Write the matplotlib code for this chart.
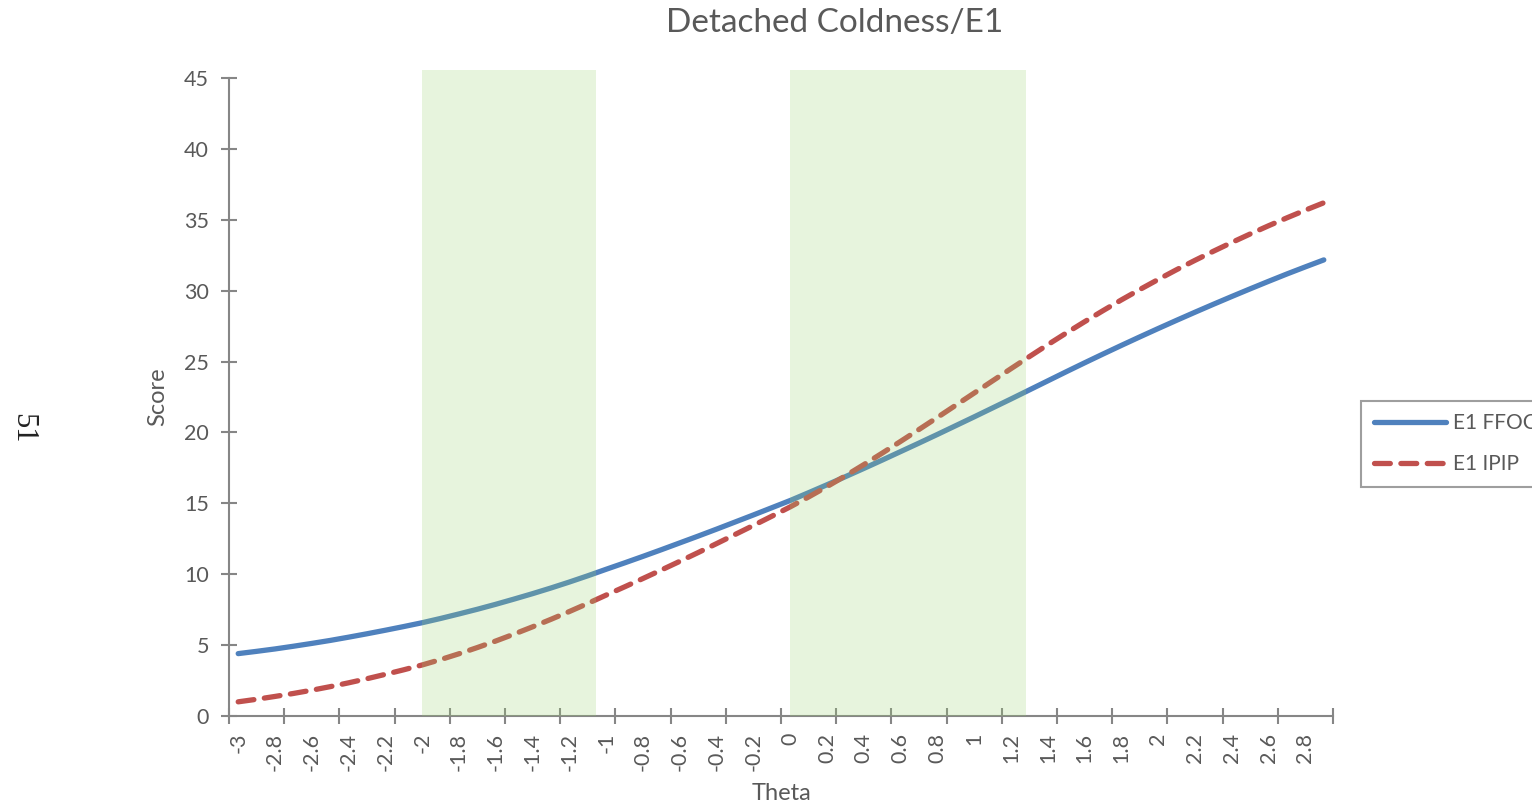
import matplotlib
matplotlib.use("Agg")
import matplotlib.pyplot as plt
import numpy as np

# --- données ---
theta = np.round(np.arange(-3.0, 2.95, 0.1), 1)

e1_ffoci = [4.40, 4.56, 4.73, 4.92, 5.12, 5.33, 5.56, 5.80, 6.05, 6.31,
            6.58, 6.88, 7.20, 7.53, 7.88, 8.25, 8.63, 9.03, 9.45, 9.89,
            10.35, 10.80, 11.26, 11.73, 12.21, 12.69, 13.18, 13.68, 14.18, 14.69,
            15.20, 15.75, 16.31, 16.88, 17.46, 18.05, 18.65, 19.25, 19.86, 20.48,
            21.10, 21.73, 22.36, 23.00, 23.64, 24.28, 24.91, 25.53, 26.14, 26.74,
            27.33, 27.91, 28.48, 29.04, 29.59, 30.13, 30.66, 31.18, 31.68, 32.17]

e1_ipip = [1.00, 1.18, 1.38, 1.59, 1.82, 2.07, 2.34, 2.63, 2.94, 3.26,
           3.60, 3.98, 4.39, 4.83, 5.29, 5.78, 6.29, 6.82, 7.37, 7.94,
           8.53, 9.11, 9.70, 10.30, 10.91, 11.53, 12.16, 12.80, 13.44, 14.09,
           14.75, 15.45, 16.18, 16.94, 17.73, 18.54, 19.37, 20.21, 21.06, 21.92,
           22.78, 23.64, 24.50, 25.35, 26.19, 27.01, 27.81, 28.59, 29.35, 30.08,
           30.79, 31.48, 32.14, 32.78, 33.40, 34.00, 34.58, 35.14, 35.68, 36.20]

# zones surlignées (en theta)
bands = [(-2.0, -1.055), (0.0, 1.28)]

grey_txt = '#595959'
grey_ax = '#868686'
plt.rcParams['font.family'] = ['Lato', 'DejaVu Sans']

fig = plt.figure(figsize=(15.32, 8.09), dpi=100)
ax = fig.add_axes([229/1532, 1-716/809, (1333-229)/1532, (716-78)/809])

ax.plot(theta, e1_ffoci, color='#4F81BD', lw=3.8, solid_capstyle='round',
        label='E1 FFOCI', zorder=2)
ax.plot(theta, e1_ipip, color='#C0504D', lw=3.8, dashes=(3.0, 2.0),
        dash_capstyle='round', label='E1 IPIP', zorder=2)

# bandes vertes par-dessus les courbes (transparentes)
for x0, x1 in bands:
    ax.axvspan(x0, x1, ymin=0, ymax=45.55/45, color='#9BD36F', alpha=0.23,
               lw=0, zorder=3, clip_on=False)

ax.set_xlim(-3.05, 2.95)
ax.set_ylim(0, 45)

# axe x : étiquettes une catégorie sur deux, graduations toutes les 3
lab_pos = theta[::2]
ax.set_xticks(lab_pos)
ax.set_xticklabels([f'{v + 0.0:g}' for v in lab_pos], rotation=90)
ax.set_xticks(np.round(np.arange(-3.05, 2.96, 0.3), 2), minor=True)
ax.tick_params(axis='x', which='major', length=0, pad=12, labelsize=15.5,
               labelcolor=grey_txt)
ax.tick_params(axis='x', which='minor', direction='inout', length=11,
               width=1.5, color=grey_ax)

ax.set_yticks(np.arange(0, 46, 5))
ax.tick_params(axis='y', direction='inout', length=11, width=1.5,
               color=grey_ax, labelsize=15.5, labelcolor=grey_txt, pad=9)

for s in ['top', 'right']:
    ax.spines[s].set_visible(False)
for s in ['left', 'bottom']:
    ax.spines[s].set_color(grey_ax)
    ax.spines[s].set_linewidth(1.5)

ax.set_xlabel('Theta', fontsize=17, color=grey_txt)
ax.xaxis.set_label_coords(0.5, 1 - (794-78)/(716-78))
ax.set_ylabel('Score', fontsize=17, color=grey_txt)
ax.yaxis.set_label_coords((158-229)/(1333-229), 1 - (397-78)/(716-78))
ax.xaxis.label.set_va('center')
ax.yaxis.label.set_va('center')

fig.text(835/1532, 1 - 23/809, 'Detached Coldness/E1', ha='center',
         va='center', fontsize=24, color=grey_txt)

# numéro de page pivoté
fig.text(23/1532, 1 - 428/809, '51', rotation=-90, ha='center', va='center',
         fontsize=22, family='Liberation Serif', color='#222222')

leg = fig.legend(loc='upper left', bbox_to_anchor=(1361/1532, 1 - 401/809),
                 borderaxespad=0, fontsize=15, handlelength=3.5,
                 labelspacing=1.0, borderpad=0.6, handletextpad=0.3,
                 fancybox=False, frameon=True)
leg.get_frame().set_edgecolor(grey_ax)
leg.get_frame().set_linewidth(1.5)
for t in leg.get_texts():
    t.set_color(grey_txt)

fig.savefig('out.png', dpi=100)
